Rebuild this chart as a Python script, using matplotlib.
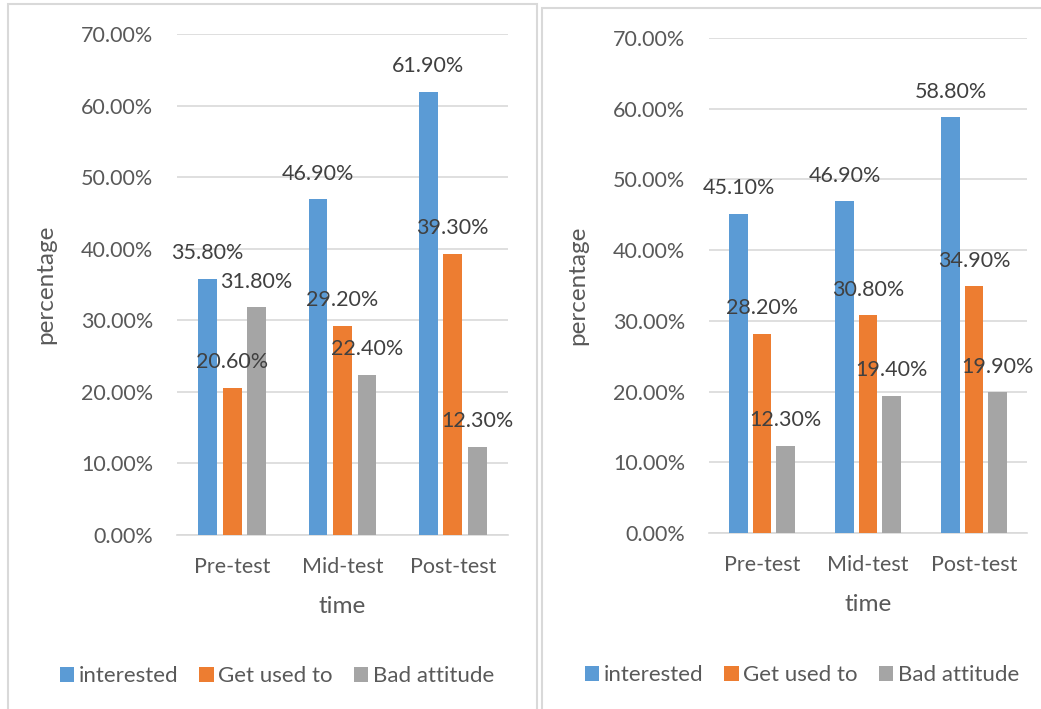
import matplotlib.pyplot as plt
from matplotlib.patches import Rectangle, Patch

plt.rcParams['font.family'] = ['Lato', 'DejaVu Sans']

# data
categories = ["Pre-test", "Mid-test", "Post-test"]
series_names = ["interested", "Get used to", "Bad attitude"]
left_interested = [0.358, 0.469, 0.619]
left_used = [0.206, 0.292, 0.393]
left_bad = [0.318, 0.224, 0.123]
right_interested = [0.451, 0.469, 0.588]
right_used = [0.282, 0.308, 0.349]
right_bad = [0.123, 0.194, 0.199]
yticks = [0.0, 0.1, 0.2, 0.3, 0.4, 0.5, 0.6, 0.7]

colors = ["#5B9BD5", "#ED7D31", "#A5A5A5"]
grid_c = "#D9D9D9"
text_c = "#595959"
label_c = "#404040"
FS = 15.5
TS = 17.5

W, H = 1041, 709
fig = plt.figure(figsize=(W / 100, H / 100), dpi=100)


def px_axes(x0, x1, ytop, ybot):
    return fig.add_axes([x0 / W, 1 - ybot / H, (x1 - x0) / W, (ybot - ytop) / H])


def draw_panel(ax, series):
    offsets = [-0.222, 0.0, 0.222]
    for vals, off, col in zip(series, offsets, colors):
        xs = [i + off for i in range(len(categories))]
        ax.bar(xs, vals, width=0.172, color=col, zorder=3)
        for x, v in zip(xs, vals):
            ax.annotate(f"{v * 100:.2f}%", (x, v), xytext=(0, 18.5), textcoords="offset points",
                        ha="center", va="center", fontsize=FS, color=label_c, zorder=4)
    ax.set_xlim(-0.5, len(categories) - 0.5)
    ax.set_ylim(0, 0.7)
    ax.set_yticks(yticks)
    ax.set_yticklabels([f"{t * 100:.2f}%" for t in yticks])
    ax.set_xticks(range(len(categories)))
    ax.set_xticklabels(categories)
    ax.tick_params(axis="y", length=0, pad=17, labelsize=FS, labelcolor=text_c)
    ax.tick_params(axis="x", length=0, pad=16, labelsize=FS, labelcolor=text_c)
    ax.grid(axis="y", color=grid_c, lw=1.2, zorder=0)
    for s in ["top", "right", "left"]:
        ax.spines[s].set_visible(False)
    ax.spines["bottom"].set_color(grid_c)
    ax.spines["bottom"].set_linewidth(1.2)
    ax.set_xlabel("time", fontsize=TS, color=text_c, labelpad=13.5)
    ax.set_ylabel("percentage", fontsize=TS, color=text_c, labelpad=18)


ax1 = px_axes(177, 508, 34, 535)
draw_panel(ax1, [left_interested, left_used, left_bad])
ax2 = px_axes(709, 1027, 38, 533)
draw_panel(ax2, [right_interested, right_used, right_bad])

# panel borders
fig.patches.append(Rectangle((8 / W, -0.05), 529 / W, 1.05 - 4 / H, transform=fig.transFigure,
                             fill=False, edgecolor=grid_c, lw=1.5))
fig.patches.append(Rectangle((542 / W, -0.05), 520 / W, 1.05 - 8 / H, transform=fig.transFigure,
                             fill=False, edgecolor=grid_c, lw=1.5))

handles = [Patch(facecolor=c, label=n) for c, n in zip(colors, series_names)]
for cx, cy in [(277, 676), (802, 675)]:
    fig.legend(handles=handles, loc="center", bbox_to_anchor=(cx / W, 1 - cy / H), ncol=3,
               frameon=False, fontsize=FS + 0.5, labelcolor=text_c, handlelength=0.65, handleheight=0.65,
               handletextpad=0.2, columnspacing=0.95)

fig.savefig("out.png", dpi=100)
